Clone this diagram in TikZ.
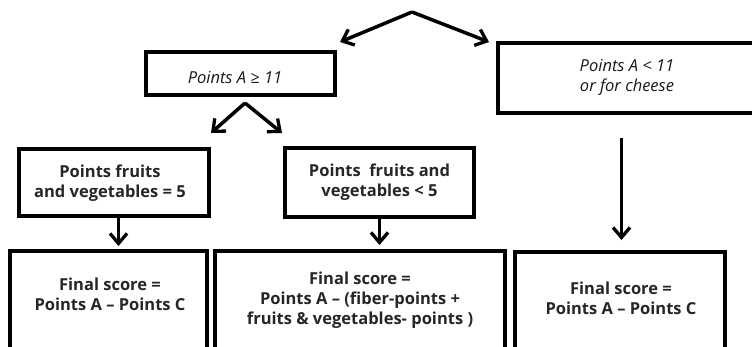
\documentclass[tikz,border=0pt]{standalone}
\usepackage{fontspec}
\setmainfont{Open Sans}
\usetikzlibrary{arrows.meta}
\begin{document}
\begin{tikzpicture}[x=1pt,y=-1pt,
  box/.style={draw=black, line width=3.2pt, rectangle, inner sep=0pt},
  txt/.style={align=center, inner sep=0pt, font=\fontsize{16.5}{20}\selectfont\bfseries, text=black!85},
  itxt/.style={align=center, inner sep=0pt, font=\fontsize{16.5}{20}\selectfont\itshape, text=black!90},
  arr/.style={line width=3.5pt, -{Straight Barb[length=10pt,width=17pt,line width=3.3pt]}, line join=miter}
]
\useasboundingbox (0,0) rectangle (752,346);
\clip (0,0) rectangle (752,346);
\fill[white] (0,0) rectangle (752,346);

% boxes
\node[box, minimum width=189pt, minimum height=43pt] (ageq) at (240.5,73.5) {};
\node[itxt] (ageqt) at (235,77.5) {Points A ≥ 11};
\node[box, minimum width=258pt, minimum height=70pt] (alt) at (627,78) {};
\node[itxt] (altt) at (627,77) {Points A < 11\\or for cheese};

\node[box, minimum width=190pt, minimum height=67pt] (fv5) at (114,182.5) {};
\node[txt] (fv5t) at (110,183.5) {Points fruits\\and vegetables = 5};
\node[box, minimum width=189pt, minimum height=69pt] (fvl) at (379.5,182.5) {};
\node[txt] (fvlt) at (379.5,182) {Points\ \ fruits and\\vegetables < 5};

\node[box, minimum width=197pt, minimum height=140pt] (finA) at (108.5,321) {};
\node[txt] (finAt) at (110,294) {Final score =\\Points A -- Points C};
\node[box, minimum width=290pt, minimum height=140pt] (finB) at (360,321) {};
\node[txt] (finBt) at (360,300) {Final score =\\Points A -- (fiber-points +\\fruits \& vegetables- points )};
\node[box, minimum width=210pt, minimum height=140pt] (finC) at (620,322) {};
\node[txt] (finCt) at (621,298) {Final score =\\Points A -- Points C};

% connector points
\coordinate (top) at (412,12);
\coordinate (tL) at (340,42);
\coordinate (tR) at (489,42);
\coordinate (mid) at (245,103);
\coordinate (mL) at (211,133);
\coordinate (mR) at (282,133);
\coordinate (altS) at (621.5,138);
\coordinate (altE) at (621.5,240);
\coordinate (fv5E) at (118.5,246);
\coordinate (fvlE) at (379.5,245);

\draw[arr] (top) -- (tL);
\draw[arr] (top) -- (tR);
\draw[arr] (mid) -- (mL);
\draw[arr] (mid) -- (mR);
\draw[arr] (altS) -- (altE);
\draw[arr] (fv5.south -| fv5E) -- (fv5E);
\draw[arr] (fvl.south -| fvlE) -- (fvlE);
\end{tikzpicture}
\end{document}
